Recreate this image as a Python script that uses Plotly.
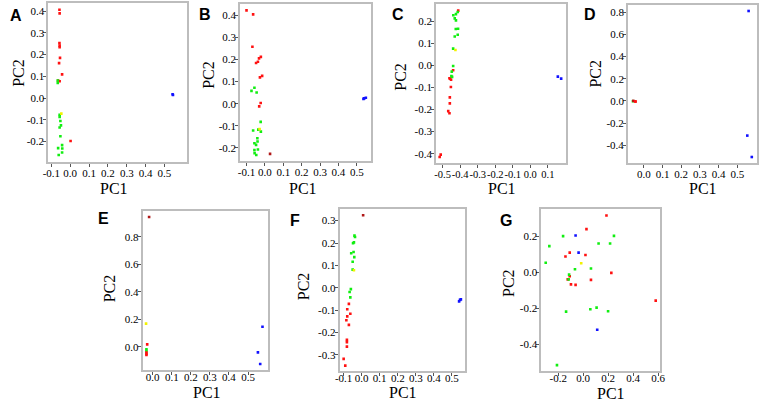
import plotly.graph_objects as go

# PCA score plots, seven panels (A-G)
# groups: r = red, g = green, b = blue, y = yellow, d = dark red

a_pc1 = [-0.057, -0.056, -0.057, -0.056, -0.056, -0.054, -0.059, -0.043, -0.064, -0.056, 0.002,
         -0.066, -0.066, -0.056, -0.052, -0.049, -0.056, -0.052, -0.043, -0.064, -0.042, -0.043,
         -0.061, -0.056, -0.047, 0.543, 0.545]
a_pc2 = [0.407, 0.390, 0.253, 0.242, 0.234, 0.185, 0.161, 0.109, 0.081, 0.077, -0.198,
         0.081, 0.070, -0.077, -0.106, -0.126, -0.136, -0.176, -0.217, -0.231, -0.233, -0.251,
         -0.263, -0.087, -0.072, 0.017, 0.014]
a_grp = ["r"] * 11 + ["g"] * 13 + ["y", "b", "b"]

b_pc1 = [-0.100, -0.064, -0.068, -0.022, -0.032, -0.048, -0.038, -0.015, -0.027, -0.023, -0.031,
         0.028,
         -0.057, -0.073, -0.045, -0.023, -0.064, -0.036, -0.022, -0.041, -0.040, -0.057, -0.048,
         -0.038, -0.057, -0.056, -0.047,
         -0.029, 0.540, 0.549, 0.536]
b_pc2 = [0.422, 0.404, 0.258, 0.212, 0.205, 0.184, 0.190, 0.126, 0.119, 0.003, -0.012,
         -0.227,
         0.072, 0.058, 0.051, -0.082, -0.121, -0.117, -0.126, -0.156, -0.171, -0.179, -0.186,
         -0.207, -0.210, -0.224, -0.232,
         -0.115, 0.024, 0.027, 0.022]
b_grp = ["r"] * 11 + ["d"] + ["g"] * 15 + ["y", "b", "b", "b"]

c_pc1 = [-0.411, -0.457, -0.461, -0.452, -0.440, -0.453, -0.459, -0.459, -0.468, -0.461, -0.511,
         -0.517,
         -0.414, -0.424, -0.439, -0.431, -0.424, -0.412, -0.425, -0.414, -0.431, -0.440, -0.440,
         -0.448, -0.450, -0.446,
         -0.427, 0.157, 0.176]
c_pc2 = [0.248, -0.060, -0.058, -0.065, -0.022, -0.098, -0.145, -0.172, -0.207, -0.217, -0.404,
         -0.415,
         0.242, 0.232, 0.227, 0.213, 0.204, 0.166, 0.165, 0.139, 0.131, 0.076, -0.003,
         -0.028, -0.048, -0.052,
         0.070, -0.051, -0.060]
c_grp = ["r"] * 12 + ["g"] * 14 + ["y", "b", "b"]

d_pc1 = [-0.058, -0.056, -0.044, -0.046, 0.560, 0.553, 0.577]
d_pc2 = [-0.002, 0.001, -0.005, -0.004, 0.811, -0.312, -0.505]
d_grp = ["g", "d", "r", "r", "b", "b", "b"]

e_pc1 = [-0.019, -0.035, -0.029, -0.033, -0.033, -0.033, -0.033, -0.033, 0.576, 0.552, 0.564]
e_pc2 = [0.942, 0.169, 0.019, -0.017, -0.030, -0.040, -0.050, -0.058, 0.147, -0.039, -0.123]
e_grp = ["d", "y", "r", "g", "g", "r", "r", "r", "b", "b", "b"]

f_pc1 = [0.008,
         -0.040, -0.037, -0.043, -0.048, -0.045, -0.058, -0.041, -0.050, -0.050, -0.060, -0.067,
         -0.063,
         -0.043,
         -0.071, -0.080, -0.063, -0.080, -0.085, -0.071, -0.082, -0.082, -0.082, -0.100, -0.091,
         0.545, 0.540, 0.550]
f_pc2 = [0.324,
         0.233, 0.227, 0.203, 0.199, 0.160, 0.154, 0.137, 0.116, 0.081, -0.006, -0.019,
         -0.043,
         0.078,
         -0.072, -0.096, -0.116, -0.128, -0.145, -0.166, -0.233, -0.243, -0.263, -0.318, -0.348,
         -0.054, -0.061, -0.052]
f_grp = ["d"] + ["g"] * 12 + ["y"] + ["r"] * 11 + ["b"] * 3

g_pc1 = [0.186, 0.026, -0.108, -0.142, 0.018, 0.225, -0.108, -0.124, 0.062, -0.098, -0.061,
         0.580,
         -0.161, -0.271, -0.300, 0.123, 0.215, 0.246, -0.113, -0.066, 0.062, -0.116, -0.137,
         0.057, 0.107, 0.199, -0.210,
         -0.016, -0.061, -0.037, 0.112]
g_pc2 = [0.317, 0.241, 0.110, 0.088, 0.097, -0.003, -0.022, -0.039, -0.042, -0.067, -0.070,
         -0.158,
         0.202, 0.146, 0.053, 0.161, 0.161, 0.203, -0.013, 0.017, 0.021, -0.039, -0.219,
         -0.206, -0.197, -0.217, -0.517,
         0.051, 0.205, 0.110, -0.320]
g_grp = ["r"] * 12 + ["g"] * 15 + ["y", "b", "b", "b"]

GROUP_COLORS = {"r": "#ff1111", "g": "#11ee11", "b": "#1111ff", "y": "#f2f200", "d": "#b01818"}

W, H = 765, 401

# panel: letter, data, pixel box (x0, x1, y0, y1), axis ranges, tick values,
# letter pos, PC1 label pos, PC2 label pos, x tick label standoff, x tick font size
panels = [
    ("A", a_pc1, a_pc2, a_grp, (43, 184, 3, 162), (-0.116, 0.62), (-0.295, 0.438),
     [-0.1, 0.0, 0.1, 0.2, 0.3, 0.4, 0.5], [-0.2, -0.1, 0.0, 0.1, 0.2, 0.3, 0.4],
     (10, 15), (110, 188), (12, 73), -3, 11),
    ("B", b_pc1, b_pc2, b_grp, (238, 371, 4, 161), (-0.134, 0.578), (-0.259, 0.451),
     [-0.1, 0.0, 0.1, 0.2, 0.3, 0.4, 0.5], [-0.2, -0.1, 0.0, 0.1, 0.2, 0.3, 0.4],
     (202, 14), (302, 188), (205, 75), -3, 11),
    ("C", c_pc1, c_pc2, c_grp, (437, 569, 4, 163), (-0.537, 0.204), (-0.442, 0.278),
     [-0.5, -0.4, -0.3, -0.2, -0.1, 0.0, 0.1], [-0.4, -0.3, -0.2, -0.1, 0.0, 0.1, 0.2],
     (398, 14), (504, 188), (400, 77), -3, 10.5),
    ("D", d_pc1, d_pc2, d_grp, (632, 763, 5, 163), (-0.084, 0.605), (-0.559, 0.865),
     [0.0, 0.1, 0.2, 0.3, 0.4, 0.5], [-0.4, -0.2, 0.0, 0.2, 0.4, 0.6, 0.8],
     (593, 14), (708, 188), (598, 74), -3, 11),
    ("E", e_pc1, e_pc2, e_grp, (139, 266, 211, 370), (-0.052, 0.604), (-0.167, 0.986),
     [0.0, 0.1, 0.2, 0.3, 0.4, 0.5], [0.0, 0.2, 0.4, 0.6, 0.8],
     (99, 218), (204, 392), (105, 288), -7, 11),
    ("F", f_pc1, f_pc2, f_grp, (339, 466, 209, 371), (-0.122, 0.571), (-0.372, 0.352),
     [-0.1, 0.0, 0.1, 0.2, 0.3, 0.4, 0.5], [-0.3, -0.2, -0.1, 0.0, 0.1, 0.2, 0.3],
     (294, 220), (403, 392), (302, 286), -7, 11),
    ("G", g_pc1, g_pc2, g_grp, (544, 664, 209, 371), (-0.334, 0.611), (-0.55, 0.353),
     [-0.2, 0.0, 0.2, 0.4, 0.6], [-0.4, -0.2, 0.0, 0.2],
     (508, 220), (615, 393), (510, 283), -7, 11),
]


def tick_text(vals):
    return ["%.1f" % (0.0 if abs(v) < 1e-9 else v) for v in vals]


fig = go.Figure()
layout = dict(width=W, height=H, margin=dict(l=0, r=0, t=0, b=0),
              paper_bgcolor="white", plot_bgcolor="white", showlegend=False)
annotations = []

serif = "Liberation Serif, Times New Roman, serif"
title_font = dict(family=serif, size=16, color="black")

for i, (letter, pc1, pc2, grp, box, xr, yr, xt, yt, lpos, xlab, ylab, xsoff, xfs) in enumerate(panels):
    n = "" if i == 0 else str(i + 1)
    fig.add_trace(go.Scatter(
        x=pc1, y=pc2, mode="markers",
        marker=dict(size=2.6, symbol="square", color=[GROUP_COLORS[g] for g in grp]),
        xaxis="x" + n, yaxis="y" + n, hoverinfo="x+y"))

    x0, x1, y0, y1 = box
    axis_common = dict(showgrid=False, zeroline=False, showline=True, mirror=True,
                       linecolor="#bdbdbd", linewidth=2, ticks="outside", ticklen=3,
                       tickwidth=1, tickcolor="#555555", tickangle=0)
    layout["xaxis" + n] = dict(axis_common, domain=[x0 / W, x1 / W], range=list(xr),
                               anchor="y" + n, tickvals=xt, ticktext=tick_text(xt),
                               ticklabelstandoff=xsoff,
                               tickfont=dict(family=serif, size=xfs, color="black"))
    layout["yaxis" + n] = dict(axis_common, domain=[1 - y1 / H, 1 - y0 / H], range=list(yr),
                               anchor="x" + n, tickvals=yt, ticktext=tick_text(yt),
                               ticklabelstandoff=-3,
                               tickfont=dict(family=serif, size=11, color="black"))
    annotations.append(dict(text="<b>%s</b>" % letter, x=lpos[0] / W, y=1 - lpos[1] / H,
                            xref="paper", yref="paper", showarrow=False,
                            xanchor="center", yanchor="middle",
                            font=dict(family="Liberation Sans, Arial, sans-serif",
                                      size=16, color="black")))
    annotations.append(dict(text="PC1", x=xlab[0] / W, y=1 - xlab[1] / H,
                            xref="paper", yref="paper", showarrow=False,
                            xanchor="center", yanchor="middle", font=title_font))
    annotations.append(dict(text="PC2", x=ylab[0] / W, y=1 - ylab[1] / H, textangle=-90,
                            xref="paper", yref="paper", showarrow=False,
                            xanchor="center", yanchor="middle", font=title_font))

layout["annotations"] = annotations
fig.update_layout(**layout)

# drop the browser's default page margin so the figure sits at the window corner
fig.write_html("out.html", config={"displayModeBar": False},
               post_script="document.body.style.margin = '0';")
